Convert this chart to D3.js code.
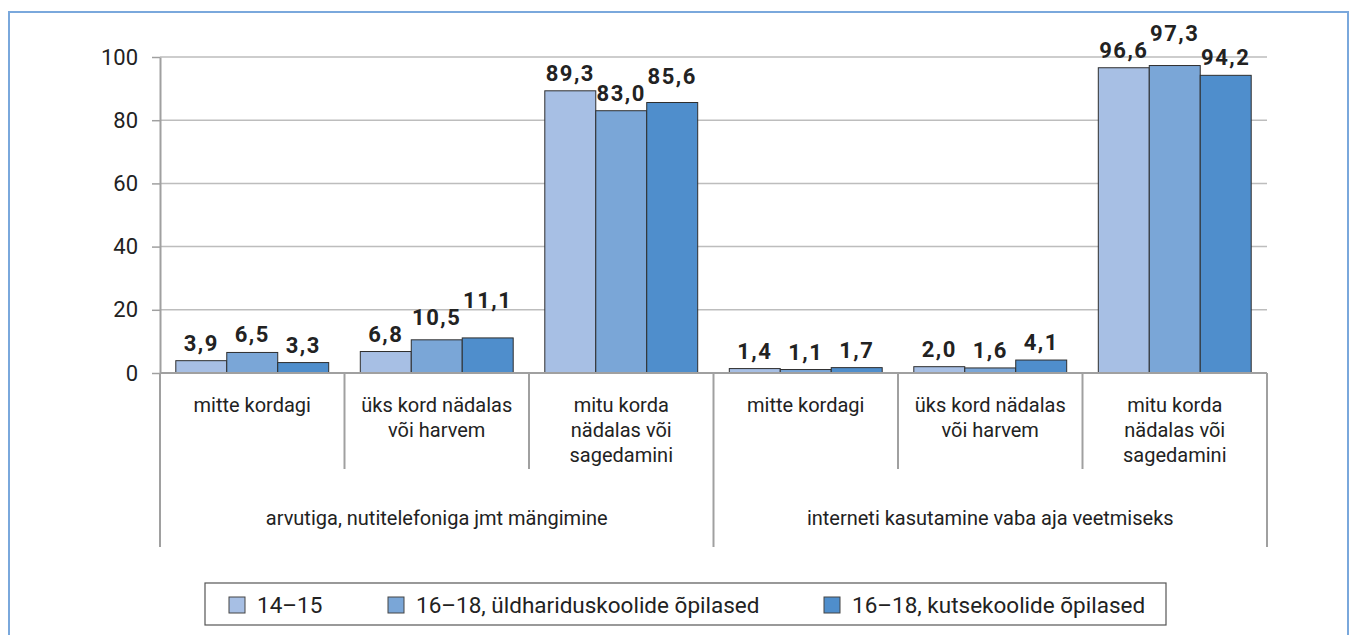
<!DOCTYPE html>
<html>
<head>
<meta charset="utf-8">
<script src="https://cdn.jsdelivr.net/npm/d3@7"></script>
<style>
  html, body { margin: 0; padding: 0; background: #fff; }
  svg { display: block; font-family: Roboto, "Noto Sans", sans-serif; }
</style>
</head>
<body>
<div id="chart"></div>
<script>
// Chart data
const groups = [
  "arvutiga, nutitelefoniga jmt mängimine",
  "interneti kasutamine vaba aja veetmiseks"
];
const categories = [
  ["mitte kordagi"],
  ["üks kord nädalas", "või harvem"],
  ["mitu korda", "nädalas või", "sagedamini"]
];
const series = ["14–15", "16–18, üldhariduskoolide õpilased", "16–18, kutsekoolide õpilased"];
const values1415 = [3.9, 6.8, 89.3, 1.4, 2.0, 96.6];
const valuesGeneral = [6.5, 10.5, 83.0, 1.1, 1.6, 97.3];
const valuesVocational = [3.3, 11.1, 85.6, 1.7, 4.1, 94.2];
const yTicks = [0, 20, 40, 60, 80, 100];

const colors = ["#a7bfe4", "#7aa6d7", "#4f8ecc"];
const W = 1351, H = 635;
const plot = { left: 160, right: 1267, top: 57, bottom: 373 };

const svg = d3.select("#chart").append("svg")
  .attr("width", W).attr("height", H);

// outer frame
svg.append("rect")
  .attr("x", 9).attr("y", 12)
  .attr("width", 1339).attr("height", 700)
  .attr("fill", "none")
  .attr("stroke", "#7aa8dc")
  .attr("stroke-width", 2);

// build flat list of slots (group x category)
const slots = [];
groups.forEach((g, gi) => categories.forEach((c, ci) => slots.push({ g: gi, c: ci, lines: c })));
const seriesValues = [values1415, valuesGeneral, valuesVocational];

const x = d3.scaleBand()
  .domain(d3.range(slots.length))
  .range([plot.left, plot.right])
  .paddingInner(0).paddingOuter(0);

const xInner = d3.scaleBand()
  .domain(d3.range(series.length))
  .range([0, x.bandwidth()])
  .paddingInner(0).paddingOuter(0.31);

const y = d3.scaleLinear().domain([0, 100]).range([plot.bottom, plot.top]);

// gridlines
svg.append("g")
  .selectAll("line")
  .data(yTicks.filter(d => d > 0))
  .join("line")
  .attr("x1", plot.left).attr("x2", plot.right)
  .attr("y1", d => y(d)).attr("y2", d => y(d))
  .attr("stroke", "#bdbdbd")
  .attr("stroke-width", 1.5);

// y axis
const yAxis = svg.append("g")
  .attr("transform", `translate(${plot.left},0)`)
  .call(d3.axisLeft(y).tickValues(yTicks).tickSize(8).tickPadding(14).tickSizeOuter(0));
yAxis.select(".domain").attr("stroke", "#a0a0a0").attr("stroke-width", 2);
yAxis.selectAll(".tick line").attr("stroke", "#a0a0a0").attr("stroke-width", 1.5);
yAxis.selectAll(".tick text")
  .attr("fill", "#222")
  .style("font-size", "22px")
  .style("font-family", "Roboto, sans-serif");

// bars
const fmt = v => d3.format(".1f")(v).replace(".", ",");
const labelNodes = []; // labelNodes[si][i]
seriesValues.forEach((vals, si) => {
  const gBars = svg.append("g");
  gBars.selectAll("rect")
    .data(vals)
    .join("rect")
    .attr("x", (d, i) => x(i) + xInner(si))
    .attr("y", d => y(d))
    .attr("width", xInner.bandwidth())
    .attr("height", d => y(0) - y(d))
    .attr("fill", colors[si])
    .attr("stroke", "#2e2e2e")
    .attr("stroke-width", 1);

  const labels = gBars.selectAll("text")
    .data(vals)
    .join("text")
    .attr("x", (d, i) => x(i) + xInner(si) + xInner.bandwidth() / 2)
    .attr("y", d => y(d) - 10)
    .attr("text-anchor", "middle")
    .attr("fill", "#222")
    .style("font-size", "22px")
    .style("font-weight", "bold")
    .style("letter-spacing", "1.5px")
    .text(d => fmt(d));
  labelNodes.push(labels.nodes());
});

// nudge value labels up when their digits collide with the label to their left
const capH = 16;
slots.forEach((s, i) => {
  for (let si = 1; si < series.length; si++) {
    const prevNode = labelNodes[si - 1][i];
    const node = labelNodes[si][i];
    const prev = prevNode.getBBox();
    const cur = node.getBBox();
    const prevBase = +prevNode.getAttribute("y");
    const curBase = +node.getAttribute("y");
    const hOverlap = cur.x < prev.x + prev.width + 10;
    const vOverlap = curBase > prevBase - capH && curBase - capH < prevBase;
    if (hOverlap && vOverlap) {
      node.setAttribute("y", prevBase - capH - 1);
    }
  }
});

// category axis
const axisColor = "#a0a0a0";
svg.append("line")
  .attr("x1", plot.left).attr("x2", plot.right)
  .attr("y1", plot.bottom).attr("y2", plot.bottom)
  .attr("stroke", axisColor).attr("stroke-width", 2);

// separators between categories
svg.append("g")
  .selectAll("line")
  .data(d3.range(slots.length + 1))
  .join("line")
  .attr("x1", i => i < slots.length ? x(i) : plot.right)
  .attr("x2", i => i < slots.length ? x(i) : plot.right)
  .attr("y1", plot.bottom)
  .attr("y2", i => i % categories.length === 0 ? 547 : 469)
  .attr("stroke", axisColor)
  .attr("stroke-width", 2);

// category labels
const catLabels = svg.append("g")
  .selectAll("text")
  .data(slots)
  .join("text")
  .attr("x", (d, i) => x(i) + x.bandwidth() / 2)
  .attr("y", 412)
  .attr("text-anchor", "middle")
  .attr("fill", "#222")
  .style("font-size", "20px");
catLabels.each(function (d) {
  const t = d3.select(this);
  d.lines.forEach((ln, li) => {
    t.append("tspan")
      .attr("x", t.attr("x"))
      .attr("dy", li === 0 ? 0 : 25)
      .text(ln);
  });
});

// group labels
svg.append("g")
  .selectAll("text")
  .data(groups)
  .join("text")
  .attr("x", (d, gi) => (x(gi * categories.length) + (gi === groups.length - 1 ? plot.right : x((gi + 1) * categories.length))) / 2)
  .attr("y", 525)
  .attr("text-anchor", "middle")
  .attr("fill", "#222")
  .style("font-size", "20px")
  .text(d => d);

// legend
const legend = svg.append("g");
legend.append("rect")
  .attr("x", 205).attr("y", 583)
  .attr("width", 961).attr("height", 42)
  .attr("fill", "#fff")
  .attr("stroke", "#555")
  .attr("stroke-width", 1.2);

const legendX = [229, 388, 824];
series.forEach((s, si) => {
  legend.append("rect")
    .attr("x", legendX[si]).attr("y", 597)
    .attr("width", 16).attr("height", 16)
    .attr("fill", colors[si])
    .attr("stroke", "#444")
    .attr("stroke-width", 1);
  legend.append("text")
    .attr("x", legendX[si] + 28)
    .attr("y", 613)
    .attr("fill", "#222")
    .style("font-size", "22.5px")
    .text(s);
});
</script>
</body>
</html>
